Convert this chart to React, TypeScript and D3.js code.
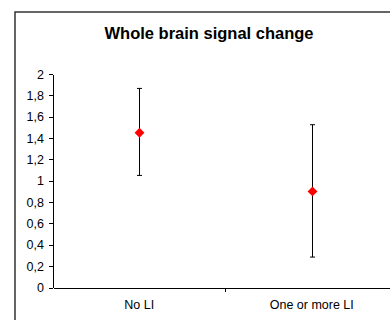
import { useEffect, useRef } from 'react'
import * as d3 from 'd3'

const categories = ['No LI', 'One or more LI']
const means = [1.45, 0.9]
const upper = [1.865, 1.525]
const lower = [1.05, 0.285]
const yTicks = [0, 0.2, 0.4, 0.6, 0.8, 1, 1.2, 1.4, 1.6, 1.8, 2]

const FONT = 'Liberation Sans, Arial, sans-serif'

export default function App() {
  const svgRef = useRef<SVGSVGElement>(null)
  const width = 390
  const height = 320

  useEffect(() => {
    if (!svgRef.current) return
    const svg = d3.select(svgRef.current)
    svg.selectAll('*').remove()

    svg.append('rect').attr('width', width).attr('height', height).attr('fill', '#fff')

    // chart frame (runs off the right and bottom edge)
    svg
      .append('rect')
      .attr('x', 15)
      .attr('y', 12)
      .attr('width', 400)
      .attr('height', 330)
      .attr('fill', 'none')
      .attr('stroke', '#333')
      .attr('stroke-width', 1.5)

    svg
      .append('text')
      .attr('x', 209)
      .attr('y', 38.5)
      .attr('text-anchor', 'middle')
      .attr('font-family', FONT)
      .attr('font-weight', 'bold')
      .attr('font-size', '16.5px')
      .attr('fill', '#000')
      .text('Whole brain signal change')

    const left = 53
    const right = 398
    const yScale = d3.scaleLinear().domain([0, 2]).range([287.5, 74])
    const xScale = d3.scaleBand().domain(categories).range([left, right])

    // Y axis
    const yAxis = svg
      .append('g')
      .attr('transform', `translate(${left},0)`)
      .call(
        d3
          .axisLeft(yScale)
          .tickValues(yTicks)
          .tickSize(4)
          .tickSizeOuter(0)
          .tickPadding(5)
          .tickFormat((d) => d3.format('.1~f')(d as number).replace('.', ','))
      )
    yAxis.selectAll('path, line').attr('stroke', '#000').attr('shape-rendering', 'crispEdges')
    yAxis.selectAll('text').attr('font-family', FONT).attr('font-size', '12.5px').attr('fill', '#000')

    // X axis
    const xAxis = svg
      .append('g')
      .attr('transform', `translate(0,${yScale(0)})`)
      .call(d3.axisBottom(xScale).tickSize(0).tickSizeOuter(0).tickPadding(13))
    xAxis.select('.domain').attr('stroke', '#000').attr('shape-rendering', 'crispEdges')
    xAxis.selectAll('text').attr('font-family', FONT).attr('font-size', '12.5px').attr('fill', '#000')

    // category separator tick
    xAxis
      .append('line')
      .attr('x1', xScale(categories[1]) as number)
      .attr('x2', xScale(categories[1]) as number)
      .attr('y1', 0)
      .attr('y2', 4)
      .attr('stroke', '#000')
      .attr('shape-rendering', 'crispEdges')

    const cx = (c: string) => (xScale(c) || 0) + xScale.bandwidth() / 2

    // Error bars
    const bars = svg.append('g')
    categories.forEach((c, i) => {
      const x = Math.round(cx(c)) + 0.5
      bars
        .append('line')
        .attr('x1', x)
        .attr('x2', x)
        .attr('y1', yScale(upper[i]))
        .attr('y2', yScale(lower[i]))
        .attr('stroke', '#000')
      ;[upper[i], lower[i]].forEach((v) => {
        bars
          .append('line')
          .attr('x1', x - 2.5)
          .attr('x2', x + 2.5)
          .attr('y1', yScale(v))
          .attr('y2', yScale(v))
          .attr('stroke', '#000')
      })
    })

    // Diamond markers
    svg
      .append('g')
      .selectAll('path')
      .data(categories)
      .enter()
      .append('path')
      .attr('d', d3.symbol(d3.symbolDiamond2, 62)())
      .attr('transform', (d, i) => `translate(${Math.round(cx(d)) + 0.5},${yScale(means[i])})`)
      .attr('fill', '#ff0000')
  }, [])

  return (
    <svg
      ref={svgRef}
      width={width}
      height={height}
      style={{ position: 'absolute', left: 0, top: 0 }}
    />
  )
}
